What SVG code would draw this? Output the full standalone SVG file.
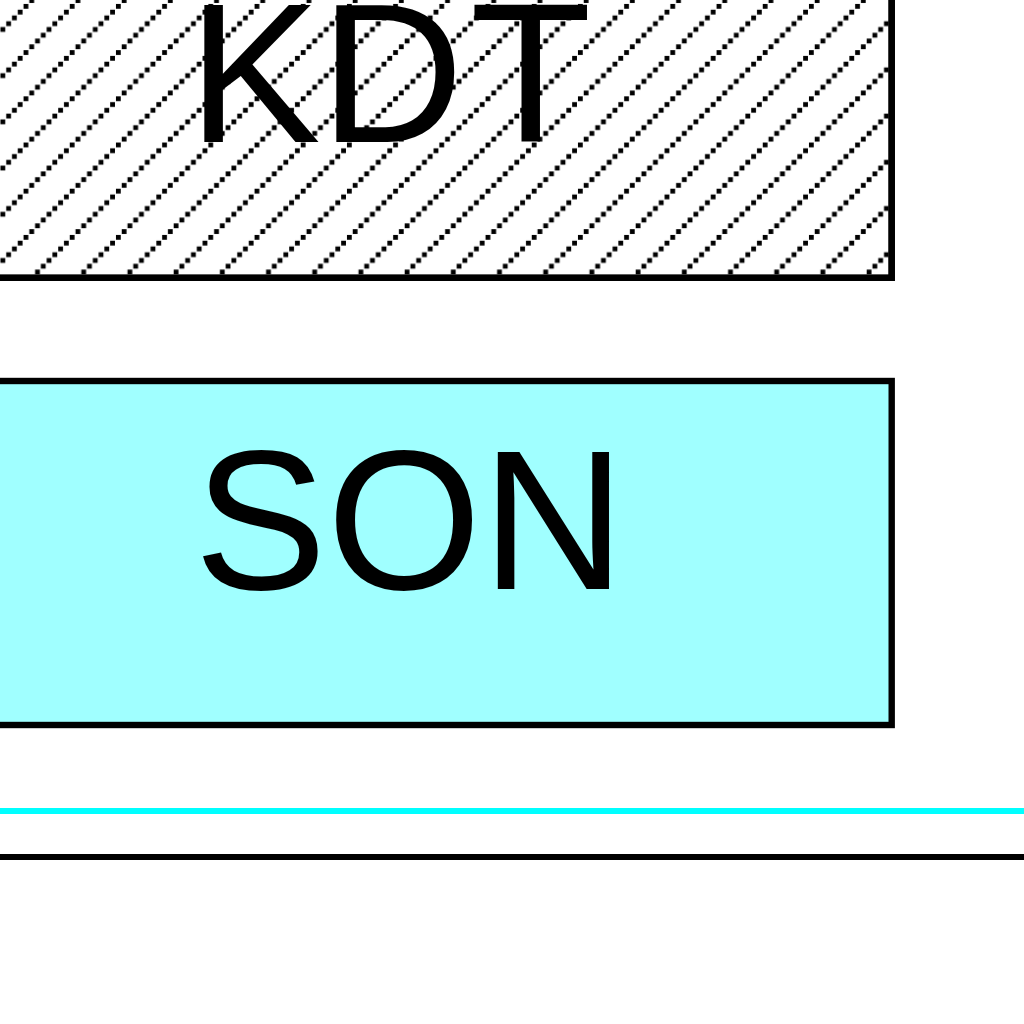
<svg xmlns="http://www.w3.org/2000/svg" width="1024" height="1024" viewBox="0 0 1024 1024">
  <defs>
    <pattern id="hatch" patternUnits="userSpaceOnUse" x="0" y="0" width="46.2" height="46.2">
      <g fill="#000">
        <rect x="35.1" y="38.6" width="4.8" height="4.8"/>
        <rect x="40.875" y="32.825" width="4.8" height="4.8"/>
        <rect x="0.45" y="27.05" width="4.8" height="4.8"/>
        <rect x="6.225" y="21.275" width="4.8" height="4.8"/>
        <rect x="12" y="15.5" width="4.8" height="4.8"/>
        <rect x="17.775" y="9.725" width="4.8" height="4.8"/>
        <rect x="23.55" y="3.95" width="4.8" height="4.8"/>
        <rect x="29.325" y="-1.825" width="4.8" height="4.8"/>
        <rect x="29.325" y="44.375" width="4.8" height="4.8"/>
      </g>
    </pattern>
  </defs>
  <style>
    .box { stroke: #000; stroke-width: 6.4; }
    .label { font-family: "Liberation Sans", Arial, Helvetica, sans-serif; font-size: 199px; fill: #000; }
  </style>
  <rect x="0" y="0" width="1024" height="1024" fill="#fff"/>
  <g id="node-kdt">
    <rect class="box" x="-20" y="-20" width="911.7" height="297.8" fill="#fff"/>
    <rect x="-20" y="-20" width="911.7" height="297.8" fill="url(#hatch)"/>
    <rect x="-20" y="-20" width="911.7" height="297.8" fill="none" class="box"/>
    <text class="label" x="188 320 470" y="142">KDT</text>
  </g>
  <g id="node-son">
    <rect class="box" x="-20" y="381" width="911.7" height="344" fill="#a0ffff"/>
    <text class="label" x="194" y="589">SON</text>
  </g>
  <g id="rules">
    <line x1="0" y1="811" x2="1024" y2="811" stroke="#00ffff" stroke-width="6"/>
    <line x1="0" y1="857" x2="1024" y2="857" stroke="#000" stroke-width="6"/>
  </g>
</svg>
